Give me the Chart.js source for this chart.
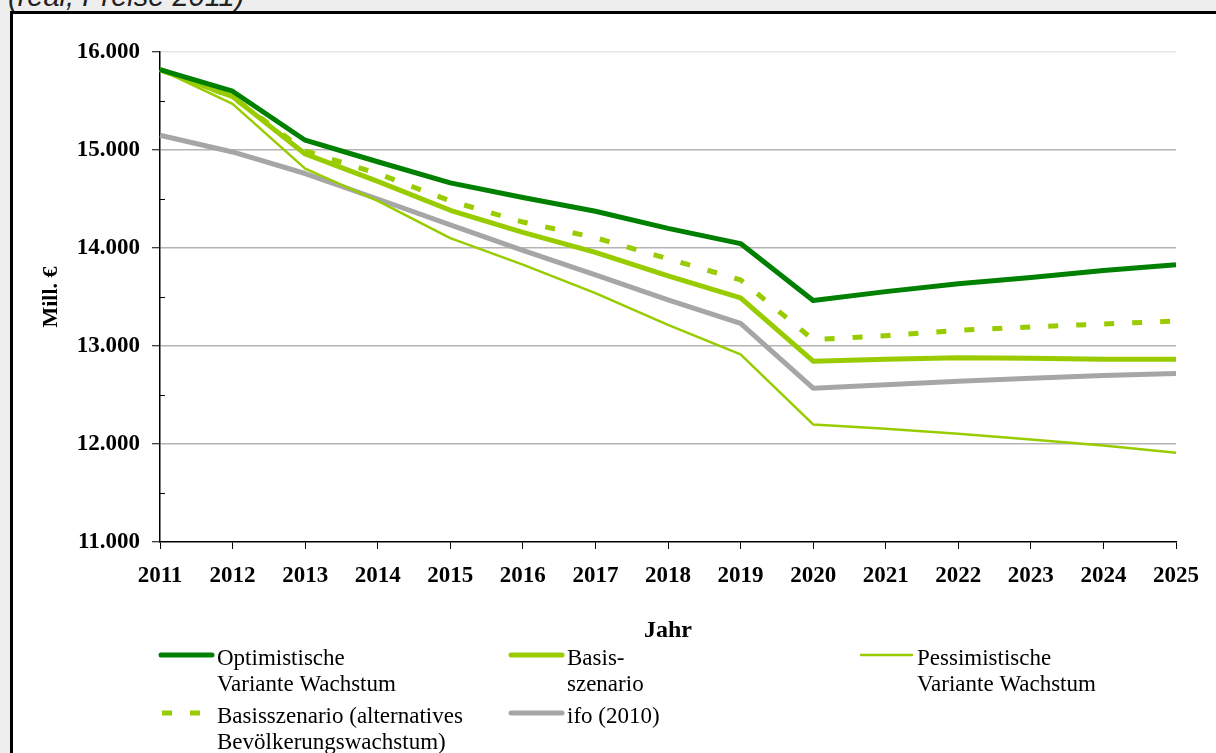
<!DOCTYPE html>
<html lang="de">
<head>
<meta charset="UTF-8">
<title>Mill. € 2011-2025</title>
<script src="https://cdn.jsdelivr.net/npm/chart.js@4.4.0/dist/chart.umd.min.js"></script>
<style>
  html, body { margin: 0; padding: 0; background: #eeeeee; overflow: hidden; }
  #topnote {
    position: absolute; left: 8px; top: -18px;
    font: italic 29px "Liberation Sans", Arial, sans-serif; line-height: 29px;
    color: #222; white-space: nowrap;
  }
  #frame {
    position: absolute; left: 10px; top: 11px;
    width: 1220px; height: 760px;
    border-top: 3px solid #000; border-left: 3px solid #000;
    background: #fff;
  }
  #wrap { position: absolute; left: 0; top: 0; width: 1203px; height: 739px; }
</style>
</head>
<body>
<div id="topnote">(real, Preise 2011)</div>
<div id="frame">
  <div id="wrap"><canvas id="chart"></canvas></div>
</div>

<script>
// values (Mill. €)
const years = ['2011','2012','2013','2014','2015','2016','2017','2018','2019','2020','2021','2022','2023','2024','2025'];
const optimistisch = [15820, 15600, 15100, 14880, 14665, 14515, 14375, 14200, 14045, 13465, 13555, 13635, 13700, 13770, 13830];
const basis        = [15820, 15545, 14960, 14680, 14385, 14160, 13955, 13715, 13490, 12845, 12865, 12880, 12875, 12865, 12865];
const pessimistisch = [15820, 15470, 14810, 14480, 14100, 13830, 13540, 13215, 12915, 12200, 12155, 12105, 12045, 11985, 11910];
const basisAlt     = [15820, 15540, 14990, 14760, 14480, 14265, 14105, 13890, 13675, 13065, 13105, 13160, 13195, 13225, 13255];
const ifo          = [15150, 14980, 14760, 14500, 14235, 13975, 13725, 13470, 13230, 12570, 12605, 12640, 12670, 12700, 12720];
const yTicks = [11000, 12000, 13000, 14000, 15000, 16000];

const DARK = '#008000', LIGHT = '#99cc00', GREY = '#a6a6a6';
const serif = '"Liberation Serif", "Times New Roman", serif';

function fmt(v) {
  return String(v).replace(/\B(?=(\d{3})+(?!\d))/g, '.');
}

// legend entries: label lines + column/row slot
const legendItems = [
  { ds: 0, lines: ['Optimistische', 'Variante Wachstum'], col: 0, row: 0 },
  { ds: 1, lines: ['Basis-', 'szenario'], col: 1, row: 0 },
  { ds: 2, lines: ['Pessimistische', 'Variante Wachstum'], col: 2, row: 0 },
  { ds: 3, lines: ['Basisszenario (alternatives', 'Bevölkerungswachstum)'], col: 0, row: 1 },
  { ds: 4, lines: ['ifo (2010)'], col: 1, row: 1 }
];

const extras = {
  id: 'extras',
  afterDraw(chart) {
    const ctx = chart.ctx;
    const y = chart.scales.y;
    const left = chart.chartArea.left;
    // small inward ticks at the half steps
    ctx.save();
    ctx.strokeStyle = '#000';
    ctx.lineWidth = 1;
    for (let i = 0; i < yTicks.length - 1; i++) {
      const py = Math.round(y.getPixelForValue((yTicks[i] + yTicks[i + 1]) / 2)) + 0.5;
      ctx.beginPath();
      ctx.moveTo(left, py);
      ctx.lineTo(left + 5, py);
      ctx.stroke();
    }
    // legend
    const colX = [147, 497, 847];
    const rowY = [641, 699];
    ctx.font = '23px ' + serif;
    ctx.fillStyle = '#000';
    ctx.textBaseline = 'alphabetic';
    ctx.textAlign = 'left';
    legendItems.forEach(it => {
      const ds = chart.data.datasets[it.ds];
      const x0 = colX[it.col], ys = rowY[it.row];
      ctx.save();
      ctx.strokeStyle = ds.borderColor;
      ctx.lineWidth = ds.borderWidth;
      ctx.setLineDash(ds.borderDash || []);
      ctx.lineCap = ds.borderDash ? 'butt' : 'round';
      ctx.beginPath();
      ctx.moveTo(x0 + (ds.borderDash ? 2 : 1), ys);
      ctx.lineTo(x0 + 52, ys);
      ctx.stroke();
      ctx.restore();
      it.lines.forEach((t, k) => {
        ctx.fillText(t, x0 + 57, ys + 10 + k * 26);
      });
    });
    ctx.restore();
  }
};

new Chart(document.getElementById('chart'), {
  type: 'line',
  data: {
    labels: years,
    datasets: [
      { label: 'Optimistische Variante Wachstum', data: optimistisch, borderColor: DARK, borderWidth: 5 },
      { label: 'Basisszenario', data: basis, borderColor: LIGHT, borderWidth: 5 },
      { label: 'Pessimistische Variante Wachstum', data: pessimistisch, borderColor: LIGHT, borderWidth: 2.5 },
      { label: 'Basisszenario (alternatives Bevölkerungswachstum)', data: basisAlt, borderColor: LIGHT, borderWidth: 5, borderDash: [10, 18] },
      { label: 'ifo (2010)', data: ifo, borderColor: GREY, borderWidth: 5 }
    ].map(d => Object.assign(d, { pointRadius: 0, tension: 0, fill: false, borderJoinStyle: 'round' }))
  },
  options: {
    responsive: true,
    maintainAspectRatio: false,
    animation: false,
    layout: { padding: { top: 38, right: 40, bottom: 107, left: 0 } },
    plugins: {
      legend: { display: false },
      tooltip: { enabled: false }
    },
    scales: {
      x: {
        offset: false,
        border: { display: true, color: '#000', width: 1.5 },
        grid: { drawOnChartArea: false, drawTicks: true, tickLength: 7, tickColor: '#000', tickWidth: 1 },
        ticks: { color: '#000', font: { family: serif, size: 23, weight: 'bold' }, padding: 13, maxRotation: 0, autoSkip: false },
        title: { display: true, text: 'Jahr', color: '#000', font: { family: serif, size: 24, weight: 'bold' }, padding: { top: 0, bottom: 1 } },
        afterFit(s) { s.height = 104; }
      },
      y: {
        min: yTicks[0],
        max: yTicks[yTicks.length - 1],
        afterBuildTicks(s) { s.ticks = yTicks.map(v => ({ value: v })); },
        border: { display: true, color: '#000', width: 1.5 },
        grid: {
          color: c => (c.tick && c.tick.value === 16000) ? '#e4e4e4' : (c.tick && c.tick.value === 11000 ? 'rgba(0,0,0,0)' : '#b4b4b4'),
          lineWidth: 1.5,
          drawTicks: true, tickLength: 8, tickColor: '#000', tickWidth: 1
        },
        ticks: { color: '#000', font: { family: serif, size: 23, weight: 'bold' }, padding: 12, callback: v => fmt(v) },
        title: { display: true, text: 'Mill. €', color: '#000', font: { family: serif, size: 22, weight: 'bold' }, padding: { top: 25, bottom: 0 } },
        afterFit(s) { s.width = 147; }
      }
    }
  },
  plugins: [extras]
});
</script>
</body>
</html>
